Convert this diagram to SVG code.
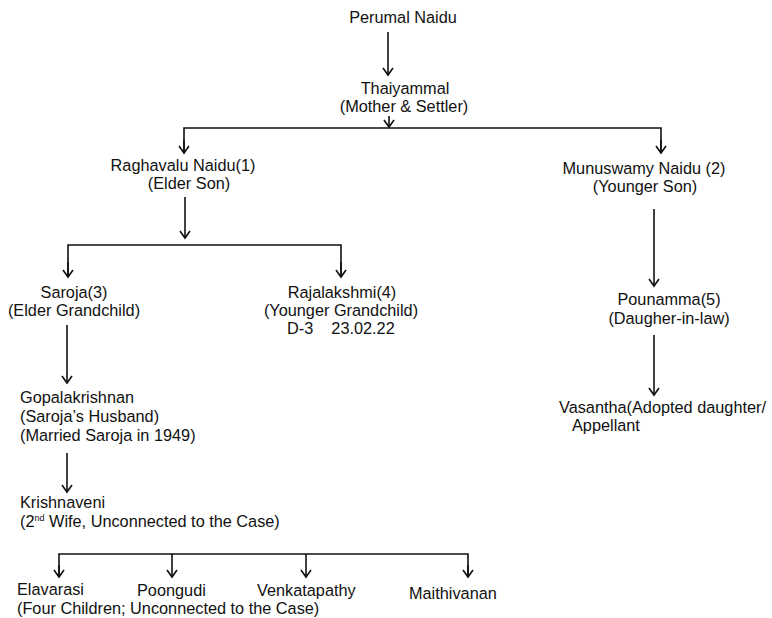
<svg xmlns="http://www.w3.org/2000/svg" width="772" height="618" viewBox="0 0 772 618">
<style>
text{font-family:"Liberation Sans",Arial,sans-serif;font-size:16.3px;fill:#111}
.c{text-anchor:middle}
.ln{stroke:#111;stroke-width:1.6;fill:none}
</style>
<defs>
<marker id="ah" markerWidth="12" markerHeight="12" refX="10" refY="6" orient="auto" markerUnits="userSpaceOnUse" viewBox="0 0 12 12">
<polyline points="3,1 10,6 3,11" fill="none" stroke="#111" stroke-width="1.6"/>
</marker>
</defs>
<rect width="772" height="618" fill="#fff"/>
<g id="connectors" class="ln">
<line x1="388" y1="32" x2="388" y2="75" marker-end="url(#ah)"/>
<line x1="389" y1="116" x2="389" y2="127" marker-end="url(#ah)"/>
<polyline points="184,153 184,128 661,128 661,153"/>
<line x1="184" y1="140" x2="184" y2="153" marker-end="url(#ah)"/>
<line x1="661" y1="140" x2="661" y2="153" marker-end="url(#ah)"/>
<line x1="185" y1="197" x2="185" y2="238" marker-end="url(#ah)"/>
<polyline points="68,277 68,245 341,245 341,277"/>
<line x1="68" y1="262" x2="68" y2="277" marker-end="url(#ah)"/>
<line x1="341" y1="262" x2="341" y2="277" marker-end="url(#ah)"/>
<line x1="654" y1="209" x2="654" y2="286" marker-end="url(#ah)"/>
<line x1="654" y1="335" x2="654" y2="395" marker-end="url(#ah)"/>
<line x1="67" y1="325" x2="67" y2="383" marker-end="url(#ah)"/>
<line x1="67" y1="453" x2="67" y2="492" marker-end="url(#ah)"/>
<polyline points="59,577 59,554 468,554 468,577"/>
<line x1="59" y1="565" x2="59" y2="577" marker-end="url(#ah)"/>
<line x1="468" y1="565" x2="468" y2="577" marker-end="url(#ah)"/>
<line x1="172" y1="554" x2="172" y2="577" marker-end="url(#ah)"/>
<line x1="306" y1="554" x2="306" y2="577" marker-end="url(#ah)"/>
</g>
<g id="perumal"><text class="c" x="403" y="23">Perumal Naidu</text></g>
<g id="thaiyammal"><text class="c" x="405" y="94">Thaiyammal</text><text class="c" x="404" y="112">(Mother &amp; Settler)</text></g>
<g id="raghavalu"><text class="c" x="183" y="171">Raghavalu Naidu(1)</text><text class="c" x="189" y="189">(Elder Son)</text></g>
<g id="munuswamy"><text class="c" x="644" y="174">Munuswamy Naidu (2)</text><text class="c" x="645" y="192">(Younger Son)</text></g>
<g id="saroja"><text class="c" x="74" y="298">Saroja(3)</text><text class="c" x="74" y="316">(Elder Grandchild)</text></g>
<g id="rajalakshmi"><text class="c" x="342" y="298">Rajalakshmi(4)</text><text class="c" x="341" y="316">(Younger Grandchild)</text><text x="287" y="334" xml:space="preserve">D-3    23.02.22</text></g>
<g id="pounamma"><text class="c" x="669" y="305">Pounamma(5)</text><text class="c" x="669" y="324">(Daugher-in-law)</text></g>
<g id="vasantha"><text x="559" y="413">Vasantha(Adopted daughter/</text><text x="572" y="431">Appellant</text></g>
<g id="gopalakrishnan"><text x="20" y="403">Gopalakrishnan</text><text x="20" y="422">(Saroja’s Husband)</text><text x="20" y="441">(Married Saroja in 1949)</text></g>
<g id="krishnaveni"><text x="20" y="508">Krishnaveni</text><text x="20" y="527">(2<tspan font-size="9" dy="-6">nd</tspan><tspan dy="6"> Wife, Unconnected to the Case)</tspan></text></g>
<g id="elavarasi"><text x="17" y="595">Elavarasi</text></g>
<g id="poongudi"><text x="137" y="596">Poongudi</text></g>
<g id="venkatapathy"><text x="257" y="596">Venkatapathy</text></g>
<g id="maithivanan"><text x="409" y="599">Maithivanan</text></g>
<g id="children-note"><text x="17" y="614">(Four Children; Unconnected to the Case)</text></g>
</svg>
